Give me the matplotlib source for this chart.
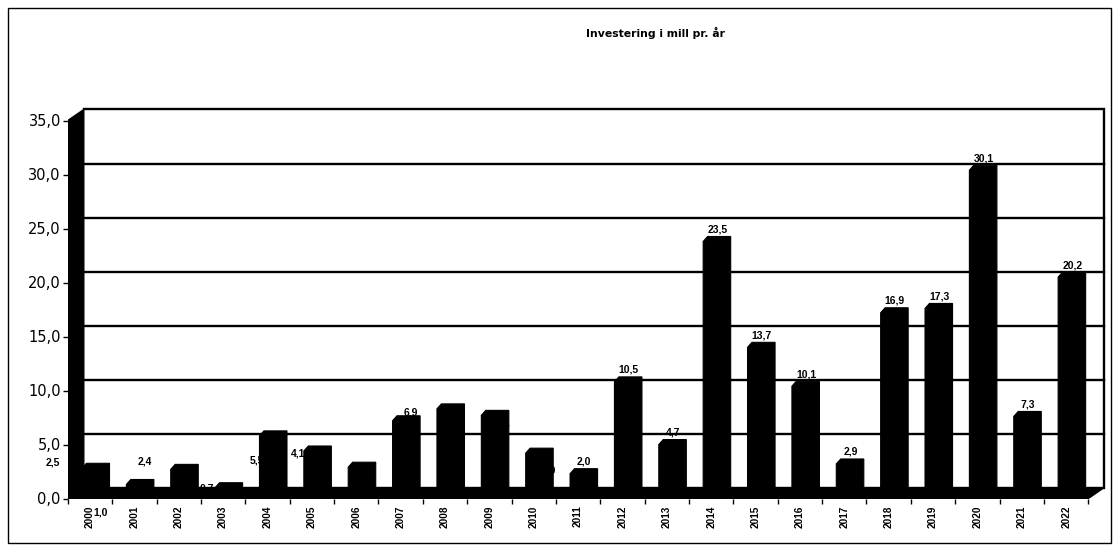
import numpy as np
import matplotlib
matplotlib.use("Agg")
import matplotlib.pyplot as plt
from matplotlib.patches import Polygon, Rectangle

# Data (mill per year)
years = [str(y) for y in range(2000, 2023)]
values = [2.5, 1.0, 2.4, 0.7, 5.5, 4.1, 2.6, 6.9, 8.0, 7.4, 3.9, 2.0,
          10.5, 4.7, 23.5, 13.7, 10.1, 2.9, 16.9, 17.3, 30.1, 7.3, 20.2]
y_ticks = [0, 5, 10, 15, 20, 25, 30, 35]
title = "Investering i mill pr. år"

# Label nudges (category units, value units) – Excel 3D put some early labels oddly
label_nudge = {0: (-0.97, -0.62), 1: (-0.91, -3.76), 2: (-0.90, -0.35),
               3: (-0.50, -1.22), 4: (-0.37, -3.36), 5: (-0.45, -1.32),
               6: (-0.04, -2.2), 7: (0.08, -0.32), 8: (-0.04, -2.6),
               9: (0.17, -2.0), 10: (0.21, -2.7)}

W, H = 1119, 549
fig = plt.figure(figsize=(W / 100, H / 100), dpi=100)
fig.patch.set_facecolor("white")

# axes placed so that x=-0.5 is the front-left wall edge and y=0 the front floor edge
px_x = 44.37
px_y = 10.8
x_lo, x_hi = -0.5, 23.0
y_lo, y_hi = 0.0, 36.5
left = 67.8
bottom = 498.5
ax = fig.add_axes([left / W, (H - bottom) / H,
                   (x_hi - x_lo) * px_x / W, (y_hi - y_lo) * px_y / H])
ax.set_xlim(x_lo, x_hi)
ax.set_ylim(y_lo, y_hi)
ax.set_facecolor("none")
for s in ax.spines.values():
    s.set_visible(False)

# 3D depth offsets
DX, DY = 16 / px_x, 11 / px_y
n = len(values)
xl, xr = -0.5, n - 0.5
ymax = y_ticks[-1]

# back wall: outline + gridlines
for t in y_ticks[1:-1]:
    ax.plot([xl + DX, xr + DX], [t + DY, t + DY], color="black", lw=1.7, zorder=1)
ax.plot([xl + DX, xr + DX, xr + DX], [ymax + DY, ymax + DY, DY],
        color="black", lw=1.7, zorder=1, solid_joinstyle="miter")

# left wall and floor (solid black)
ax.add_patch(Polygon([(xl, 0), (xl, ymax), (xl + DX, ymax + DY), (xl + DX, DY)],
                     closed=True, facecolor="black", edgecolor="black", lw=1, zorder=4))
ax.add_patch(Polygon([(xl, 0), (xr, 0), (xr + DX, DY), (xl + DX, DY)],
                     closed=True, facecolor="black", edgecolor="black", lw=1, zorder=4))

# data labels (drawn behind the bars, like the original)
for i, v in enumerate(values):
    lx, ly = i + 0.14, v + 1.42
    if i in label_nudge:
        lx += label_nudge[i][0]
        ly += label_nudge[i][1]
    ax.text(lx, ly, f"{v:.1f}".replace(".", ","), ha="center", va="center",
            fontsize=7.5, fontweight="bold", family="Liberation Sans", zorder=2)

# bars as 3D silhouettes
fx, fy = 0.08, 0.30
bx, by = 0.18, 0.76
half = 0.26
for i, v in enumerate(values):
    x0 = i + fx - half
    x1 = i + fx + half
    d = bx - fx
    pts = [(x0, fy), (x0, v + fy), (x0 + d, v + by), (x1 + d, v + by),
           (x1 + d, by), (x1, fy)]
    ax.add_patch(Polygon(pts, closed=True, facecolor="black", edgecolor="black",
                         lw=0.8, zorder=3))

# axes ticks
ax.set_yticks(y_ticks)
ax.set_yticklabels([f"{t:.1f}".replace(".", ",") for t in y_ticks],
                   fontsize=10.5, family="DejaVu Sans")
ax.tick_params(axis="y", direction="out", length=3.5, width=1, pad=1.5)

ax.set_xticks(range(n))
ax.set_xticklabels(years, rotation=90, fontsize=7.2, fontweight="bold",
                   family="Liberation Sans")
ax.set_xticks(np.arange(-0.5, n, 1.0), minor=True)
ax.tick_params(axis="x", which="major", length=0, pad=5)
ax.tick_params(axis="x", which="minor", direction="out", length=3.5, width=1)

fig.text(655 / W, 1 - 33 / H, title, ha="center", va="center",
         fontsize=7.8, fontweight="bold", family="DejaVu Sans")

# outer chart border
fig.add_artist(Rectangle((8 / W, 6 / H), (1111 - 8) / W, (543 - 8) / H,
                         transform=fig.transFigure, fill=False,
                         edgecolor="black", lw=1))

fig.savefig("out.png", dpi=100, facecolor="white")
